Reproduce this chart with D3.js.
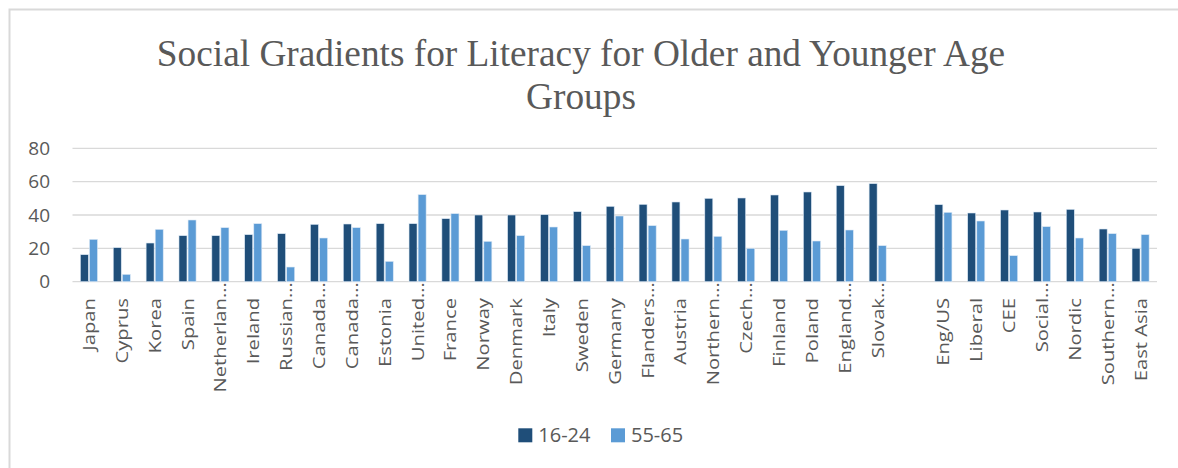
<!DOCTYPE html>
<html>
<head>
<meta charset="utf-8">
<script src="https://cdn.jsdelivr.net/npm/d3@7"></script>
<style>
body { margin: 0; background: #fff; }
</style>
</head>
<body>
<svg width="1178" height="468"></svg>
<script>
// categories ("" is the empty slot between countries and groups)
var categories = ["Japan", "Cyprus", "Korea", "Spain", "Netherlan…", "Ireland", "Russian…", "Canada…", "Canada…", "Estonia",
  "United…", "France", "Norway", "Denmark", "Italy", "Sweden", "Germany", "Flanders…", "Austria", "Northern…",
  "Czech…", "Finland", "Poland", "England…", "Slovak…", "", "Eng/US", "Liberal", "CEE", "Social…",
  "Nordic", "Southern…", "East Asia"];
var young = [16.2, 20.4, 23.2, 27.6, 27.6, 28.2, 28.8, 34.4, 34.6, 34.8,
  34.8, 37.8, 40, 40, 40.2, 42, 45.2, 46.4, 47.8, 50,
  50.2, 52, 53.8, 57.6, 58.8, null, 46.2, 41.2, 43, 41.8,
  43.4, 31.6, 20];
var old = [25.4, 4.4, 31.4, 37, 32.4, 34.8, 8.8, 26.2, 32.4, 12.2,
  52.2, 40.8, 24.2, 27.6, 32.8, 21.6, 39.4, 33.6, 25.6, 27.2,
  20, 30.8, 24.4, 31, 21.6, null, 41.6, 36.4, 15.6, 33,
  26.2, 28.8, 28.2];
var seriesNames = ["16-24", "55-65"];
var colors = ["#1F4E79", "#5B9BD5"];
var yTicks = [0, 20, 40, 60, 80];

var svg = d3.select("svg");
var plotLeft = 72.5, plotRight = 1157, plotTop = 148.3, plotBottom = 281.7;
var font = "Open Sans, sans-serif";

// chart border (left and top edges visible)
svg.append("path").attr("d", "M9.5,468 L9.5,9.5 L1178,9.5")
  .attr("fill", "none").attr("stroke", "#d9d9d9").attr("stroke-width", 2);

// title
var title = svg.append("text").attr("text-anchor", "middle")
  .attr("font-family", "Liberation Serif, Times New Roman, serif")
  .attr("font-size", 37.3).attr("fill", "#595959");
title.append("tspan").attr("x", 581).attr("y", 66).text("Social Gradients for Literacy for Older and Younger Age");
title.append("tspan").attr("x", 581).attr("y", 109).text("Groups");

var idx = d3.range(categories.length);
var x = d3.scaleBand().domain(idx).range([plotLeft, plotRight]);
var y = d3.scaleLinear().domain([0, 80]).range([plotBottom, plotTop]);

// gridlines
svg.append("g").selectAll("line").data(yTicks).enter().append("line")
  .attr("x1", plotLeft).attr("x2", plotRight)
  .attr("y1", function(d) { return y(d); }).attr("y2", function(d) { return y(d); })
  .attr("stroke", "#d9d9d9").attr("stroke-width", 1.3);

// y axis labels
var yAxis = d3.axisLeft(y).tickValues(yTicks).tickSize(0).tickPadding(0);
var gy = svg.append("g").attr("transform", "translate(50,0)").call(yAxis);
gy.select(".domain").remove();
gy.selectAll("text").attr("font-family", font).attr("font-size", 19).attr("fill", "#595959");

// bars
var sub = d3.scaleBand().domain([0, 1]).range([-9, 9]).paddingInner(0.12).paddingOuter(0.05);
[young, old].forEach(function(vals, s) {
  svg.append("g").selectAll("rect")
    .data(idx.filter(function(i) { return vals[i] != null; }))
    .enter().append("rect")
    .attr("x", function(i) { return x(i) + x.bandwidth() / 2 + sub(s); })
    .attr("width", sub.bandwidth())
    .attr("y", function(i) { return y(vals[i]); })
    .attr("height", function(i) { return y(0) - y(vals[i]); })
    .attr("fill", colors[s])
    .attr("stroke", "#dbe8f5").attr("stroke-width", 0.6);
});

// x labels, rotated (slightly stretched along the text like the reference)
var lab = svg.append("g").selectAll("g").data(idx).enter().append("g")
  .attr("transform", function(i) { return "translate(" + (x(i) + x.bandwidth() / 2 + 6) + ",298) rotate(-90) scale(1.19,1)"; });
lab.append("text").attr("text-anchor", "end")
  .attr("font-family", font).attr("font-size", 17).attr("fill", "#595959")
  .text(function(i) { return categories[i].replace("…", ""); });
lab.filter(function(i) { return categories[i].indexOf("…") >= 0; })
  .append("text").attr("text-anchor", "start")
  .attr("font-family", font).attr("font-size", 17).attr("fill", "#595959")
  .text("…");

// legend
var legend = svg.append("g").selectAll("g").data(seriesNames).enter().append("g")
  .attr("transform", function(d, i) { return "translate(" + (518.3 + i * 92.7) + ",428.3)"; });
legend.append("rect").attr("width", 14).attr("height", 14)
  .attr("fill", function(d, i) { return colors[i]; });
legend.append("text").attr("x", 20).attr("y", 13.5)
  .attr("font-family", font).attr("font-size", 20).attr("fill", "#595959")
  .text(function(d) { return d; });
</script>
</body>
</html>
